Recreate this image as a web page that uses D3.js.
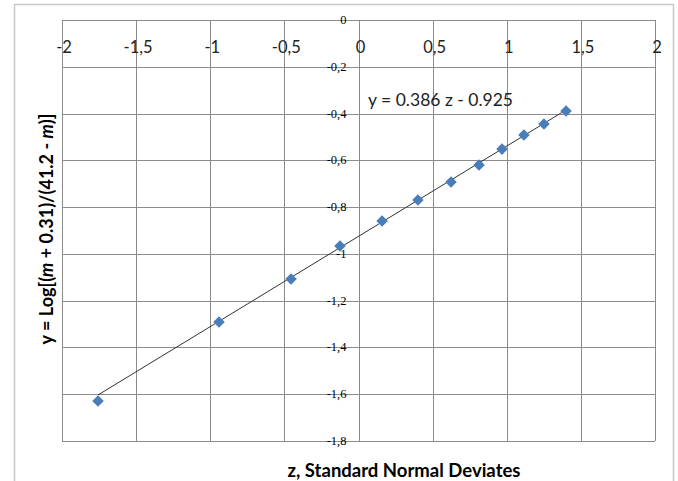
<!DOCTYPE html>
<html>
<head>
<meta charset="utf-8">
<script src="https://cdn.jsdelivr.net/npm/d3@7"></script>
<style>
  body { margin: 0; background: #fff; }
  svg { display: block; }
</style>
</head>
<body>
<svg id="chart" width="678" height="481"></svg>
<script>
// z values (standard normal deviates) and y = log[(m+0.31)/(41.2-m)]
const zVals = [-1.757, -0.941, -0.455, -0.125, 0.159, 0.401, 0.624, 0.813, 0.968, 1.116, 1.251, 1.400]
const yVals = [-1.629, -1.291, -1.107, -0.966, -0.859, -0.770, -0.693, -0.620, -0.552, -0.492, -0.445, -0.389]
const xTicks = [-2, -1.5, -1, -0.5, 0, 0.5, 1, 1.5, 2]
const yTicks = [0, -0.2, -0.4, -0.6, -0.8, -1, -1.2, -1.4, -1.6, -1.8]
const slope = 0.386
const intercept = -0.925

const svg = d3.select("#chart")
const H = 481

// outer chart frame
svg.append("path")
   .attr("d", `M14.5,${H} V4.5 H673.5 V${H}`)
   .attr("fill", "none")
   .attr("stroke", "#c8c8c8")
   .attr("stroke-width", 1.5)

const xScale = d3.scaleLinear().domain([-2, 2]).range([62, 655])
const yScale = d3.scaleLinear().domain([0, -1.8]).range([20, 441])

const comma = d => d3.format("")(d).replace(".", ",").replace("−", "-")

const g = svg.append("g")

// grid
g.selectAll(".vgrid").data(xTicks).enter().append("line")
   .attr("x1", d => Math.round(xScale(d)) + 0.5)
   .attr("x2", d => Math.round(xScale(d)) + 0.5)
   .attr("y1", yScale(0)).attr("y2", yScale(-1.8))
   .attr("stroke", "#8c8c8c").attr("stroke-width", 1)

g.selectAll(".hgrid").data(yTicks).enter().append("line")
   .attr("y1", d => Math.round(yScale(d)) + 0.5)
   .attr("y2", d => Math.round(yScale(d)) + 0.5)
   .attr("x1", xScale(-2)).attr("x2", xScale(2))
   .attr("stroke", "#8c8c8c").attr("stroke-width", 1)

// x tick labels (top, below the y=0 line)
g.selectAll(".xlab").data(xTicks).enter().append("text")
   .attr("x", d => xScale(d) + 2)
   .attr("y", 53)
   .attr("text-anchor", "middle")
   .style("font-family", "Lato, 'Open Sans', sans-serif")
   .style("font-size", "16.5px")
   .style("fill", "#222")
   .text(comma)

// y tick labels at x = 0
g.selectAll(".ylab").data(yTicks).enter().append("text")
   .attr("x", xScale(0) - 12)
   .attr("y", d => yScale(d) + 4)
   .attr("text-anchor", "end")
   .style("font-family", "'Liberation Serif', serif")
   .style("font-size", "12.5px")
   .style("fill", "#000")
   .text(comma)

// trend line
const zExt = d3.extent(zVals)
g.append("line")
   .attr("x1", xScale(zExt[0])).attr("y1", yScale(slope * zExt[0] + intercept))
   .attr("x2", xScale(zExt[1])).attr("y2", yScale(slope * zExt[1] + intercept))
   .attr("stroke", "#333").attr("stroke-width", 1)

// points
const diamond = d3.symbol().type(d3.symbolDiamond2).size(85)
g.selectAll(".pt").data(zVals).enter().append("path")
   .attr("d", diamond)
   .attr("transform", (d, i) => `translate(${xScale(d)},${yScale(yVals[i])})`)
   .attr("fill", "#4a7ebb")

// equation label
g.append("text")
   .attr("x", 368).attr("y", 106)
   .style("font-family", "Lato, 'Open Sans', sans-serif")
   .style("font-size", "17.5px")
   .style("fill", "#222")
   .text("y = 0.386 z - 0.925")

// axis titles
g.append("text")
   .attr("x", 404).attr("y", 477)
   .attr("text-anchor", "middle")
   .style("font-family", "Lato, 'Open Sans', sans-serif")
   .style("font-size", "18.5px").style("font-weight", "bold")
   .style("fill", "#000")
   .text("z, Standard Normal Deviates")

const yt = g.append("text")
   .attr("transform", "translate(53,229) rotate(-90)")
   .attr("text-anchor", "middle")
   .style("font-family", "Lato, 'Open Sans', sans-serif")
   .style("font-size", "18px").style("font-weight", "bold")
   .style("fill", "#000")
yt.append("tspan").text("y = Log[(")
yt.append("tspan").style("font-style", "italic").text("m")
yt.append("tspan").text(" + 0.31)/(41.2 - ")
yt.append("tspan").style("font-style", "italic").text("m")
yt.append("tspan").text(")]")
</script>
</body>
</html>
